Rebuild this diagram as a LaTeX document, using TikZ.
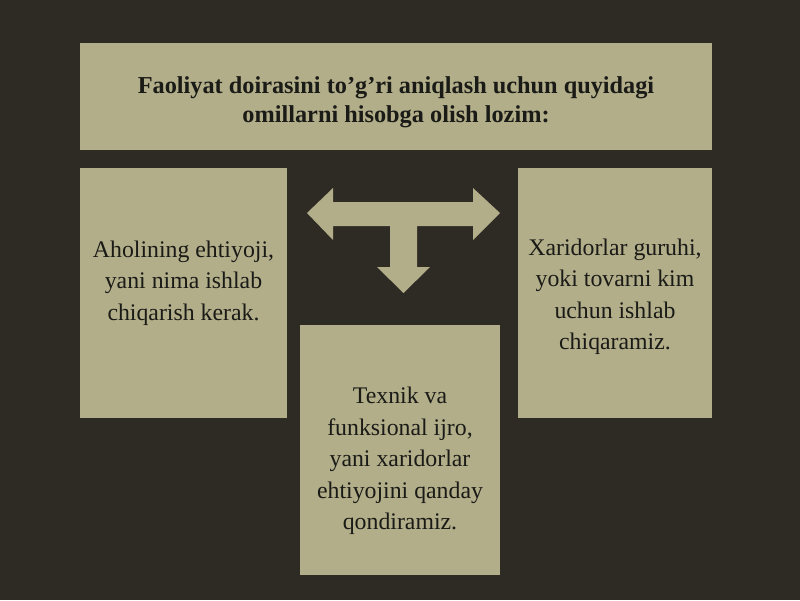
\documentclass[tikz,border=0pt]{standalone}
\usepackage{fontspec}
\setmainfont{Liberation Serif}
\definecolor{bgc}{HTML}{2E2A24}
\definecolor{boxc}{HTML}{B2AE8A}
\definecolor{txtc}{HTML}{1A1A16}
\begin{document}
\begin{tikzpicture}[x=1pt,y=-1pt,
  panel/.style={fill=boxc, draw=none, inner sep=0pt, outer sep=0pt},
  bodytxt/.style={text=txtc, align=center, font=\fontsize{23.8}{31.5}\selectfont, inner sep=0pt},
  titletxt/.style={text=txtc, align=center, font=\fontsize{24.3}{29}\selectfont\bfseries, inner sep=0pt}]
\fill[bgc] (0,0) rectangle (800,600);
\useasboundingbox (0,0) rectangle (800,600);
\node[panel, minimum width=632pt, minimum height=107pt] (top) at (396,96.5) {};
\node[panel, minimum width=207pt, minimum height=250pt] (left) at (183.5,293) {};
\node[panel, minimum width=194pt, minimum height=250pt] (right) at (615,293) {};
\node[panel, minimum width=200pt, minimum height=250pt] (bottom) at (400,450) {};
\node[titletxt] (ttl) at (396,102) {Faoliyat doirasini to’g’ri aniqlash uchun quyidagi\\omillarni hisobga olish lozim:};
\node[bodytxt] (ltx) at (183.5,283) {Aholining ehtiyoji,\\yani nima ishlab\\chiqarish kerak.};
\node[bodytxt] (rtx) at (615,297) {Xaridorlar guruhi,\\yoki tovarni kim\\uchun ishlab\\chiqaramiz.};
\node[bodytxt] (btx) at (400,461) {Texnik va\\funksional ijro,\\yani xaridorlar\\ehtiyojini qanday\\qondiramiz.};
\fill[boxc] (307,213) -- (333,188) -- (333,202) -- (473,202) -- (473,188) -- (500,213)
  -- (473,240) -- (473,226) -- (417,226) -- (417,267) -- (430,267) -- (403.5,293)
  -- (377,267) -- (390,267) -- (390,226) -- (333,226) -- (333,240) -- cycle;
\end{tikzpicture}
\end{document}
